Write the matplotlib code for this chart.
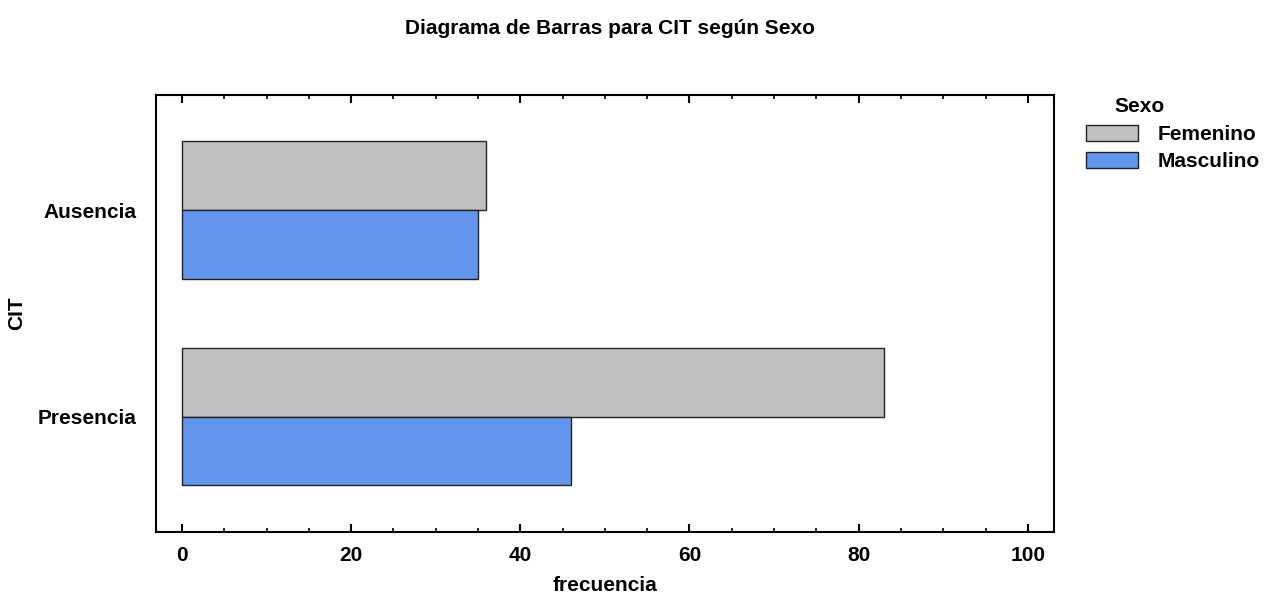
import matplotlib
matplotlib.use("Agg")
import matplotlib.pyplot as plt
import numpy as np
from matplotlib.patches import Patch
from matplotlib.ticker import MultipleLocator

# datos
categorias = ["Ausencia", "Presencia"]
femenino = [36, 83]
masculino = [35, 46]
series = ["Femenino", "Masculino"]
colores = ["#C0C0C0", "#6495ED"]

plt.rcParams['font.family'] = ['Liberation Sans', 'DejaVu Sans']
plt.rcParams['font.weight'] = 'bold'
plt.rcParams['font.size'] = 15

fig = plt.figure(figsize=(12.73, 6.0), dpi=100)
ax = fig.add_axes([0.1223, 0.1133, 0.828 - 0.1223, 0.842 - 0.1133])

y = np.arange(len(categorias))
h = 0.332
ax.barh(y - h/2, femenino, height=h, color=colores[0], edgecolor='#222222', linewidth=1)
ax.barh(y + h/2, masculino, height=h, color=colores[1], edgecolor='#222222', linewidth=1)

ax.set_xlim(-3.1, 103.1)
ax.set_ylim(1.559, -0.558)
ax.set_yticks(y)
ax.set_yticklabels(categorias)
ax.xaxis.set_major_locator(MultipleLocator(20))
ax.xaxis.set_minor_locator(MultipleLocator(5))
ax.tick_params(axis='x', which='major', direction='in', length=6, width=1.5, top=True, pad=10)
ax.tick_params(axis='x', which='minor', direction='in', length=3, width=1.2, top=True)
ax.tick_params(axis='y', length=0, pad=14)
for s in ax.spines.values():
    s.set_linewidth(1.5)

ax.set_xlabel('frecuencia', fontweight='bold', labelpad=8)
ax.set_ylabel('CIT', fontweight='bold')
ax.yaxis.set_label_coords(-(155.7 - 26) / 898.3, 0.5)
fig.text(610/1273, 1 - 28/600, 'Diagrama de Barras para CIT según Sexo',
         fontweight='bold', fontsize=15, ha='center', va='center')

handles = [Patch(facecolor=c, edgecolor='#222222', linewidth=1) for c in colores]
fig.legend(handles, series, loc='upper left', bbox_to_anchor=(1086/1273, 1 - 125/600),
           frameon=False, handlelength=2.5, handleheight=0.77, handletextpad=0.95,
           labelspacing=0.4, borderpad=0, borderaxespad=0)
fig.text(1114/1273, 1 - 106/600, 'Sexo', fontweight='bold', fontsize=15, va='center', ha='left')

fig.savefig('out.png', dpi=100)
